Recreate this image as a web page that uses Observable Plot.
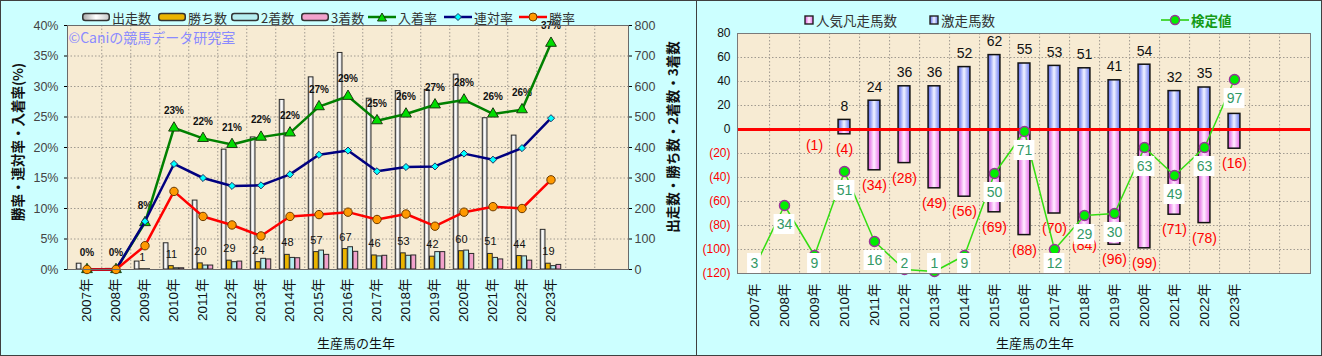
<!DOCTYPE html>
<html><head><meta charset="utf-8">
<script src="https://cdn.jsdelivr.net/npm/d3@7"></script>
<script src="https://cdn.jsdelivr.net/npm/@observablehq/plot@0.6"></script>
<style>
body{margin:0;background:#fff;font-family:"Liberation Sans","Noto Sans CJK JP",sans-serif;}
#wrap{position:relative;width:1322px;height:356px;overflow:hidden}
.panel{position:absolute;top:0;height:356px;box-sizing:border-box;border:1px solid #404040;background:#ccffff;overflow:hidden}
#left{left:0;width:697px}
#right{left:696px;width:626px}
.panel svg.plot{position:absolute;left:0;top:0}
.lg{position:absolute;display:flex;align-items:center;gap:2px;font-size:13px;height:16px;white-space:nowrap;color:#333;font-family:"Noto Sans CJK JP",sans-serif}
.lg svg{display:block}
.ttl{position:absolute;font-family:"Noto Sans CJK JP",sans-serif;font-size:13px;color:#111;white-space:nowrap;transform:translate(-50%,-50%)}
.vt{transform:translate(-50%,-50%) rotate(-90deg);font-weight:bold;font-size:13.5px}
</style></head>
<body>
<svg width="0" height="0" style="position:absolute">
 <defs>
  <linearGradient id="gRuns" x1="0" x2="1" y1="0" y2="0">
   <stop offset="0" stop-color="#a8a8a8"/><stop offset="0.5" stop-color="#ffffff"/><stop offset="1" stop-color="#c8c8c8"/>
  </linearGradient>
  <linearGradient id="gBlue" x1="0" x2="1" y1="0" y2="0">
   <stop offset="0" stop-color="#5566ee"/><stop offset="0.5" stop-color="#f2f4ff"/><stop offset="1" stop-color="#6677f4"/>
  </linearGradient>
  <linearGradient id="gPink" x1="0" x2="1" y1="0" y2="0">
   <stop offset="0" stop-color="#e055e0"/><stop offset="0.5" stop-color="#fff0ff"/><stop offset="1" stop-color="#e866ea"/>
  </linearGradient>
 </defs>
</svg>
<div id="wrap">
 <div class="panel" id="left"></div>
 <div class="panel" id="right"></div>
</div>
<script>
// ---------- data ----------
const years = ["2007年","2008年","2009年","2010年","2011年","2012年","2013年","2014年","2015年","2016年","2017年","2018年","2019年","2020年","2021年","2022年","2023年"];
const spareSlots = ["2024年","2025年"]; // empty slots on the right of both charts

// left chart: counts (right axis)
const runs    = [19, 2, 26, 86, 226, 393, 433, 556, 630, 710, 560, 585, 589, 639, 496, 439, 130];
const wins    = [0, 0, 1, 11, 20, 29, 24, 48, 57, 67, 46, 53, 42, 60, 51, 44, 19];
const seconds = [0, 0, 1, 4, 13, 24, 35, 38, 62, 73, 43, 45, 57, 62, 38, 43, 11];
const thirds  = [0, 0, 0, 4, 13, 26, 33, 37, 48, 58, 45, 46, 57, 51, 33, 29, 15];
// left chart: rates (%), left axis
const winRate   = [0, 0, 3.9, 12.8, 8.7, 7.3, 5.5, 8.7, 9.0, 9.4, 8.2, 9.1, 7.1, 9.4, 10.3, 10.0, 14.7];
const connRate  = [0, 0, 7.9, 17.3, 15.0, 13.7, 13.8, 15.6, 18.8, 19.5, 16.1, 16.8, 16.9, 19.0, 18.0, 19.9, 24.8];
const placeRate = [0, 0, 7.7, 23.2, 21.5, 20.5, 21.7, 22.4, 26.7, 28.4, 24.4, 25.5, 27.0, 27.8, 25.5, 26.2, 37.1];
const placeLabels = ["0%","0%","8%","23%","22%","21%","22%","22%","27%","29%","25%","26%","27%","28%","26%","26%","37%"];
const pctTicks = [0, 5, 10, 15, 20, 25, 30, 35, 40];
const countTicks = [0, 100, 200, 300, 400, 500, 600, 700, 800];

// right chart
const hitCount  = [null, null, 0, 8, 24, 36, 36, 52, 62, 55, 53, 51, 41, 54, 32, 35, 13];   // 激走馬数
const flopCount = [null, null, 1, 4, 34, 28, 49, 56, 69, 88, 70, 84, 96, 99, 71, 78, 16];   // 人気凡走馬数
const testValue = [3, 34, 9, 51, 16, 2, 1, 9, 50, 71, 12, 29, 30, 63, 49, 63, 97];          // 検定値 (hidden 0–120 axis)
const rightTicksPos = [0, 20, 40, 60, 80];
const rightTicksNeg = [-20, -40, -60, -80, -100, -120];

// ---------- common ----------
const font = '"Liberation Sans","Noto Sans CJK JP",sans-serif';
const slots = [...years, ...spareSlots];
const dotted = {stroke: "#a09a90", strokeOpacity: 1, strokeDasharray: "1.5,2"};

// ---------- left chart ----------
const L = {w: 695, h: 354, ml: 66, mr: 68, mt: 24, mb: 86};
const bwL = (L.w - L.ml - L.mr) / slots.length;
const grpW = 21, barW = grpW / 4;
const ins = (i) => { const l = (bwL - grpW) / 2 + barW * i; return {insetLeft: l, insetRight: bwL - l - barW}; };
const toPct = (c) => c / 20; // 800 count == 40%

const left = years.map((year, i) => ({year, runs: runs[i], wins: wins[i], seconds: seconds[i], thirds: thirds[i],
  win: winRate[i], conn: connRate[i], place: placeRate[i], placeLabel: placeLabels[i]}));

const barStroke = {stroke: "#2a2a2a", strokeWidth: 1};
const leftPlot = Plot.plot({
  width: L.w, height: L.h, marginLeft: L.ml, marginRight: L.mr, marginTop: L.mt, marginBottom: L.mb,
  style: {fontFamily: font, fontSize: "12px", background: "transparent", overflow: "visible"},
  x: {type: "band", domain: slots, padding: 0, label: null},
  y: {domain: [0, 40], label: null},
  marks: [
    Plot.frame({fill: "#f7ebd3", stroke: "none"}),
    Plot.gridY({ticks: pctTicks.slice(1, -1), ...dotted}),
    Plot.ruleX(slots.slice(0, -1), {x: d => d, dx: bwL / 2, ...dotted}),
    Plot.barY(left, {x: "year", y: d => toPct(d.runs), ...ins(0), fill: "url(#gRuns)", ...barStroke}),
    Plot.barY(left, {x: "year", y: d => toPct(d.wins), ...ins(1), fill: "#ebb400", ...barStroke}),
    Plot.barY(left, {x: "year", y: d => toPct(d.seconds), ...ins(2), fill: "#b6eef0", ...barStroke}),
    Plot.barY(left, {x: "year", y: d => toPct(d.thirds), ...ins(3), fill: "#f2a2cc", ...barStroke}),
    Plot.text(left.filter(d => d.wins > 0), {x: "year", y: d => toPct(d.wins), text: d => String(d.wins), dx: -2.6, dy: -12, fontSize: 11, fill: "#111"}),
    Plot.text(left, {x: "year", y: "place", text: "placeLabel", dy: -17, fontSize: 10, fontWeight: "bold", fill: "#111"}),
    Plot.line(left, {x: "year", y: "place", stroke: "#008000", strokeWidth: 2.5}),
    Plot.dot(left, {x: "year", y: "place", symbol: "triangle", r: 4, fill: "#00dd00", stroke: "#1a3a10", strokeWidth: 1}),
    Plot.line(left, {x: "year", y: "conn", stroke: "#000080", strokeWidth: 2.5}),
    Plot.dot(left, {x: "year", y: "conn", symbol: "diamond2", r: 3.2, fill: "#00ffff", stroke: "#203060", strokeWidth: 1}),
    Plot.line(left, {x: "year", y: "win", stroke: "#ff0000", strokeWidth: 2.5}),
    Plot.dot(left, {x: "year", y: "win", r: 4.2, fill: "#ff9900", stroke: "#6a3a00", strokeWidth: 1}),
    Plot.text(["©Caniの競馬データ研究室"], {frameAnchor: "top-left", dx: 1, dy: 13, textAnchor: "start", lineAnchor: "middle", fill: "#8a8aff", fontSize: 14, fontFamily: '"Noto Sans CJK JP",sans-serif'}),
    Plot.frame({stroke: "#6a6a6a"}),
    Plot.axisY({ticks: pctTicks, anchor: "left", tickFormat: d => d + "%", tickSize: 3, tickPadding: 6, fill: "#444", fontSize: 12.5, label: null}),
    Plot.axisY({ticks: countTicks.map(toPct), anchor: "right", tickFormat: d => String(Math.round(d * 20)), tickSize: 3, tickPadding: 3, fill: "#444", fontSize: 12.5, label: null}),
    Plot.axisX({ticks: years, tickRotate: -90, tickSize: 0, tickPadding: 9, fill: "#111", fontSize: 13.5, label: null})
  ]
});
leftPlot.classList.add("plot");
document.getElementById("left").appendChild(leftPlot);

// ---------- right chart ----------
const R = {w: 624, h: 354, ml: 40, mr: 11, mt: 32, mb: 82};
const bwR = (R.w - R.ml - R.mr) / slots.length;
const testToY = (v) => v * 200 / 120 - 120; // hidden 0–120 axis spans the same height as −120–80
const right = years.map((year, i) => ({year, hit: hitCount[i], flop: flopCount[i], test: testValue[i]}));
const withBars = right.filter(d => d.hit !== null);
const labelY = (d) => testToY(Math.max(d.test - 9.5, 5));
const barInset = (w) => ({insetLeft: (bwR - w) / 2, insetRight: (bwR - w) / 2});

const rightPlot = Plot.plot({
  width: R.w, height: R.h, marginLeft: R.ml, marginRight: R.mr, marginTop: R.mt, marginBottom: R.mb,
  style: {fontFamily: font, fontSize: "12px", background: "transparent", overflow: "visible"},
  x: {type: "band", domain: slots, padding: 0, label: null},
  y: {domain: [-120, 80], label: null},
  marks: [
    Plot.frame({fill: "#f7ebd3", stroke: "none"}),
    Plot.gridY({ticks: [...rightTicksNeg.slice(0, -1), 20, 40, 60], ...dotted}),
    Plot.ruleX(slots.slice(0, -1), {x: d => d, dx: bwR / 2, ...dotted}),
    Plot.barY(withBars, {x: "year", y: "hit", ...barInset(12), fill: "url(#gBlue)", stroke: "#111", strokeWidth: 1.5}),
    Plot.barY(withBars, {x: "year", y: d => -d.flop, ...barInset(12), fill: "url(#gPink)", stroke: "#111", strokeWidth: 1.5}),
    Plot.ruleY([0], {stroke: "#ff0000", strokeWidth: 3}),
    Plot.text(withBars.filter(d => d.hit > 0), {x: "year", y: "hit", text: d => String(d.hit), dy: -13.5, fontSize: 14, fill: "#111"}),
    Plot.text(withBars, {x: "year", y: d => -d.flop, text: d => "(" + d.flop + ")", dy: 15, fontSize: 14, fill: "#ff0000"}),
    Plot.line(right, {x: "year", y: d => testToY(d.test), stroke: "#33dd11", strokeWidth: 1.5}),
    Plot.dot(right, {x: "year", y: d => testToY(d.test), r: 5, fill: "#00ee00", stroke: "#993399", strokeWidth: 1.5}),
    Plot.barY(right.filter(d => d.test < 10), {x: "year", y1: labelY, y2: labelY, insetTop: -10, insetBottom: -10, ...barInset(14), fill: "#ffffff"}),
    Plot.barY(right.filter(d => d.test >= 10), {x: "year", y1: labelY, y2: labelY, insetTop: -10, insetBottom: -10, ...barInset(21), fill: "#ffffff"}),
    Plot.text(right, {x: "year", y: labelY, text: d => String(d.test), fontSize: 14, fill: "#339966"}),
    Plot.frame({stroke: "#7a7a7a"}),
    Plot.axisY({ticks: rightTicksPos, anchor: "left", tickSize: 0, tickPadding: 7, fill: "#111", fontSize: 12, label: null}),
    Plot.axisY({ticks: rightTicksNeg, anchor: "left", tickSize: 0, tickPadding: 7, tickFormat: d => "(" + (-d) + ")", fill: "#ff0000", fontSize: 12, label: null}),
    Plot.axisX({ticks: years, tickRotate: -90, tickSize: 0, tickPadding: 10, fill: "#111", fontSize: 13.5, label: null})
  ]
});
rightPlot.classList.add("plot");
document.getElementById("right").appendChild(rightPlot);

// ---------- legends & titles ----------
const leftLegend = [
  {name: "出走数", x: 82, kind: "bar", fill: "url(#gRuns)"},
  {name: "勝ち数", x: 158, kind: "bar", fill: "#ebb400"},
  {name: "2着数", x: 231, kind: "bar", fill: "#b6eef0"},
  {name: "3着数", x: 301, kind: "bar", fill: "#f2a2cc"},
  {name: "入着率", x: 368, kind: "line", stroke: "#008000", marker: '<path d="M14,3 L18.5,11 L9.5,11 Z" fill="#00dd00" stroke="#1a3a10"/>'},
  {name: "連対率", x: 444, kind: "line", stroke: "#000080", marker: '<path d="M14,3.5 L17.5,7 L14,10.5 L10.5,7 Z" fill="#00ffff" stroke="#203060"/>'},
  {name: "勝率", x: 519, kind: "line", stroke: "#ff0000", marker: '<circle cx="14" cy="7" r="4" fill="#ff9900" stroke="#6a3a00"/>'}
];
const lp = document.getElementById("left");
for (const it of leftLegend) {
  const d = document.createElement("div");
  d.className = "lg";
  d.style.left = (it.x - 1) + "px"; d.style.top = "8px";
  const icon = it.kind === "bar"
    ? `<svg width="28" height="14"><rect x="0.75" y="3.5" width="26.5" height="7" rx="2.5" fill="${it.fill}" stroke="#333" stroke-width="1.5"/></svg>`
    : `<svg width="28" height="14"><line x1="0" x2="28" y1="7" y2="7" stroke="${it.stroke}" stroke-width="2.5"/>${it.marker}</svg>`;
  d.innerHTML = icon + `<span>${it.name}</span>`;
  lp.appendChild(d);
}
const rightLegend = [
  {name: "人気凡走馬数", x: 804, fill: "url(#gPink)"},
  {name: "激走馬数", x: 929, fill: "url(#gBlue)"}
];
const rp = document.getElementById("right");
for (const it of rightLegend) {
  const d = document.createElement("div");
  d.className = "lg";
  d.style.left = (it.x - 697) + "px"; d.style.top = "11px"; d.style.fontSize = "13.5px";
  d.innerHTML = `<svg width="10" height="10"><rect x="1" y="1" width="8" height="8" fill="${it.fill}" stroke="#222" stroke-width="1.4"/></svg><span>${it.name}</span>`;
  rp.appendChild(d);
}
{
  const d = document.createElement("div");
  d.className = "lg";
  d.style.left = (1161 - 697) + "px"; d.style.top = "11px";
  d.style.fontSize = "13.5px"; d.style.color = "#159a15"; d.style.fontWeight = "bold";
  d.innerHTML = `<svg width="28" height="14"><line x1="0" x2="28" y1="7" y2="7" stroke="#22cc00" stroke-width="1.5"/><circle cx="14" cy="7" r="4.5" fill="#00ee00" stroke="#993399" stroke-width="1.5"/></svg><span>検定値</span>`;
  rp.appendChild(d);
}
function title(parent, text, x, y, vertical) {
  const d = document.createElement("div");
  d.className = "ttl" + (vertical ? " vt" : "");
  d.style.left = x + "px"; d.style.top = y + "px";
  d.textContent = text;
  parent.appendChild(d);
}
title(lp, "勝率・連対率・入着率(%)", 16, 141, true);
title(lp, "出走数・勝ち数・2着数・3着数", 671, 136, true);
title(lp, "生産馬の生年", 355, 341, false);
title(rp, "生産馬の生年", 1035 - 697, 341, false);
</script>
</body></html>
